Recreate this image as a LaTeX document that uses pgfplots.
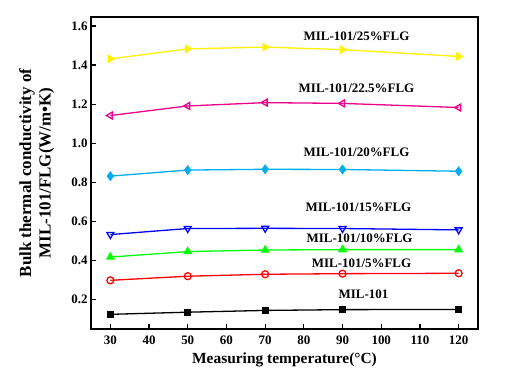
\documentclass[border=0pt]{standalone}
\usepackage{fontspec}
\setmainfont{Liberation Serif}
\usepackage{pgfplots}
\pgfplotsset{compat=1.18}
\begin{document}
\begin{tikzpicture}
\begin{axis}[
  scale only axis, width=387bp, height=312bp,
  xmin=25, xmax=125, ymin=0.05, ymax=1.646,
  xtick={30,40,...,120}, ytick={0.2,0.4,...,1.6},
  yticklabel style={/pgf/number format/.cd,fixed,fixed zerofill,precision=1},
  xticklabel style={yshift=-3bp},
  /pgf/number format/assume math mode=true,
  tick align=inside, axis line style={line width=1.6pt},
  major tick length=5bp, tick style={line width=1.2pt, black},
  xtick pos=bottom, ytick pos=left,
  ticklabel style={font=\fontsize{13}{14}\selectfont\bfseries},
  xlabel={\fontsize{15.5}{16}\selectfont\bfseries Measuring temperature(°C)},
  ylabel={\fontsize{17}{19.5}\selectfont\bfseries\begin{tabular}{c}Bulk thermal conductivity of\\MIL-101/FLG(W/m•K)\end{tabular}},
  xlabel style={yshift=-2bp},
  ylabel style={yshift=8bp},
  every axis plot/.append style={line width=1.3pt, mark size=3.5pt},
]
\addplot[black, mark=square*, mark size=3pt] coordinates {(30,0.125) (50,0.136) (70,0.145) (90,0.149) (120,0.150)};
\addplot[red, mark=o, mark options={fill=white}] coordinates {(30,0.299) (50,0.320) (70,0.330) (90,0.333) (120,0.335)};
\addplot[green, mark=triangle*, mark size=4pt] coordinates {(30,0.418) (50,0.446) (70,0.454) (90,0.456) (120,0.456)};
\addplot[blue, mark=triangle, mark size=4pt, mark options={rotate=180, fill=white}] coordinates {(30,0.533) (50,0.564) (70,0.565) (90,0.564) (120,0.557)};
\addplot[cyan, mark=diamond*, mark size=4pt] coordinates {(30,0.832) (50,0.863) (70,0.867) (90,0.866) (120,0.857)};
\addplot[magenta, mark=triangle, mark size=4pt, mark options={rotate=90, fill=white}] coordinates {(30,1.142) (50,1.191) (70,1.208) (90,1.204) (120,1.183)};
\addplot[yellow, mark=triangle*, mark size=4pt, mark options={rotate=-90}] coordinates {(30,1.432) (50,1.483) (70,1.492) (90,1.479) (120,1.444)};
\begin{scope}[every node/.style={font=\fontsize{13}{14}\selectfont\bfseries}]
\node at (axis cs:93.6,1.549) {MIL-101/25\%FLG};
\node at (axis cs:93.6,1.282) {MIL-101/22.5\%FLG};
\node at (axis cs:93.6,0.954) {MIL-101/20\%FLG};
\node at (axis cs:94.1,0.672) {MIL-101/15\%FLG};
\node at (axis cs:94.4,0.512) {MIL-101/10\%FLG};
\node at (axis cs:94.9,0.386) {MIL-101/5\%FLG};
\node at (axis cs:95.4,0.227) {MIL-101};
\end{scope}
\end{axis}
\path ([shift={(-91bp,-56bp)}]current axis.south west) rectangle ([shift={(44bp,17bp)}]current axis.north east);
\end{tikzpicture}
\end{document}
